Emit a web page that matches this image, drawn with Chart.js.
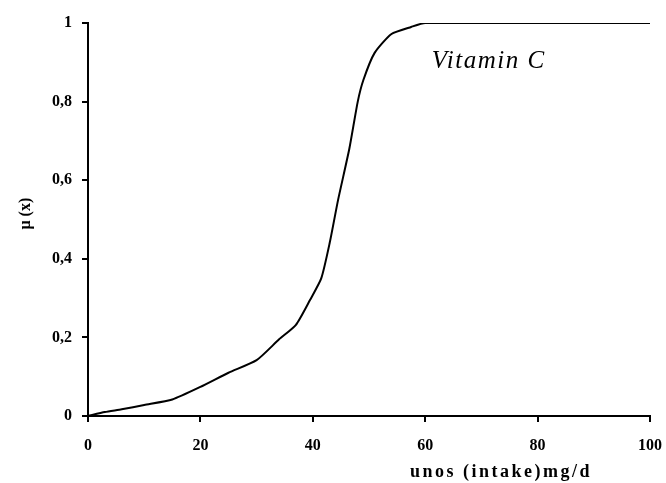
<!DOCTYPE html>
<html>
<head>
<meta charset="utf-8">
<script src="https://cdn.jsdelivr.net/npm/chart.js@4"></script>
<style>
  html, body { margin: 0; padding: 0; background: #fff; }
  #wrap { width: 666px; height: 483px; }
</style>
</head>
<body>
<div id="wrap"><canvas id="chart" width="666" height="483"></canvas></div>
<script>
// intake (mg/d) and membership degree
const intake = [0, 3, 6, 10, 15, 20, 25, 30, 34, 37, 39.5, 41.5, 43, 44.5, 46.5, 48, 49, 51, 54, 57.5, 60, 100];
const membership = [0, 0.01, 0.017, 0.028, 0.042, 0.074, 0.11, 0.142, 0.195, 0.232, 0.295, 0.35, 0.44, 0.55, 0.68, 0.8, 0.855, 0.924, 0.972, 0.99, 1, 1];
const xTicks = [0, 20, 40, 60, 80, 100];
const yTicks = [0, 0.2, 0.4, 0.6, 0.8, 1];

const seriesLabel = 'Vitamin C';
const xTitle = 'unos (intake)mg/d';
const yTitle = 'μ (x)';

const tickFont = { family: "'Liberation Serif', 'DejaVu Serif', serif", size: 16, weight: 'bold' };

const textPlugin = {
    id: 'texts',
    afterDraw(chart) {
        const ctx = chart.ctx;
        const xs = chart.scales.x, ys = chart.scales.y;
        ctx.save();
        ctx.fillStyle = '#000';
        // series label inside plot
        ctx.font = "italic 25px 'Liberation Serif', serif";
        ctx.letterSpacing = '1.5px';
        ctx.textAlign = 'center';
        ctx.textBaseline = 'alphabetic';
        ctx.fillText(seriesLabel, xs.getPixelForValue(71.3), ys.getPixelForValue(0.885));
        // x axis title
        ctx.font = "bold 18px 'Liberation Serif', serif";
        ctx.letterSpacing = '2.5px';
        ctx.fillText(xTitle, xs.getPixelForValue(73.5), 477);
        // y axis title
        ctx.letterSpacing = '0px';
        ctx.font = "bold 16px 'Liberation Serif', serif";
        ctx.translate(26, ys.getPixelForValue(0.515));
        ctx.rotate(-Math.PI / 2);
        ctx.textBaseline = 'middle';
        ctx.fillText(yTitle, 0, 0);
        ctx.restore();
    }
};

new Chart('chart', {
    type: 'scatter',
    data: {
        datasets: [{
            label: seriesLabel,
            data: intake.map((x, i) => ({ x: x, y: membership[i] })),
            showLine: true,
            borderColor: '#000',
            borderWidth: 2,
            pointRadius: 0,
            tension: 0.2,
            fill: false
        }]
    },
    options: {
        responsive: false,
        animation: false,
        layout: { padding: { left: 0, right: 16, top: 23, bottom: 0 } },
        plugins: {
            legend: { display: false },
            tooltip: { enabled: false }
        },
        scales: {
            x: {
                type: 'linear',
                min: 0,
                max: 100,
                afterBuildTicks: axis => { axis.ticks = xTicks.map(v => ({ value: v })); },
                afterFit: axis => { axis.height = 67; axis.paddingRight = 0; axis.paddingLeft = 0; },
                border: { display: true, color: '#000', width: 2 },
                grid: { drawOnChartArea: false, drawTicks: true, tickLength: 6, color: '#000', lineWidth: 2 },
                ticks: { color: '#000', font: tickFont, padding: 14, maxRotation: 0 }
            },
            y: {
                type: 'linear',
                min: 0,
                max: 1,
                afterBuildTicks: axis => { axis.ticks = yTicks.map(v => ({ value: v })); },
                afterFit: axis => { axis.width = 88; axis.paddingTop = 0; axis.paddingBottom = 0; },
                border: { display: true, color: '#000', width: 2 },
                grid: { drawOnChartArea: false, drawTicks: true, tickLength: 6, color: '#000', lineWidth: 2 },
                ticks: {
                    color: '#000',
                    font: tickFont,
                    padding: 10,
                    callback: v => (Math.round(v * 10) / 10).toString().replace('.', ',')
                }
            }
        }
    },
    plugins: [textPlugin]
});
</script>
</body>
</html>
